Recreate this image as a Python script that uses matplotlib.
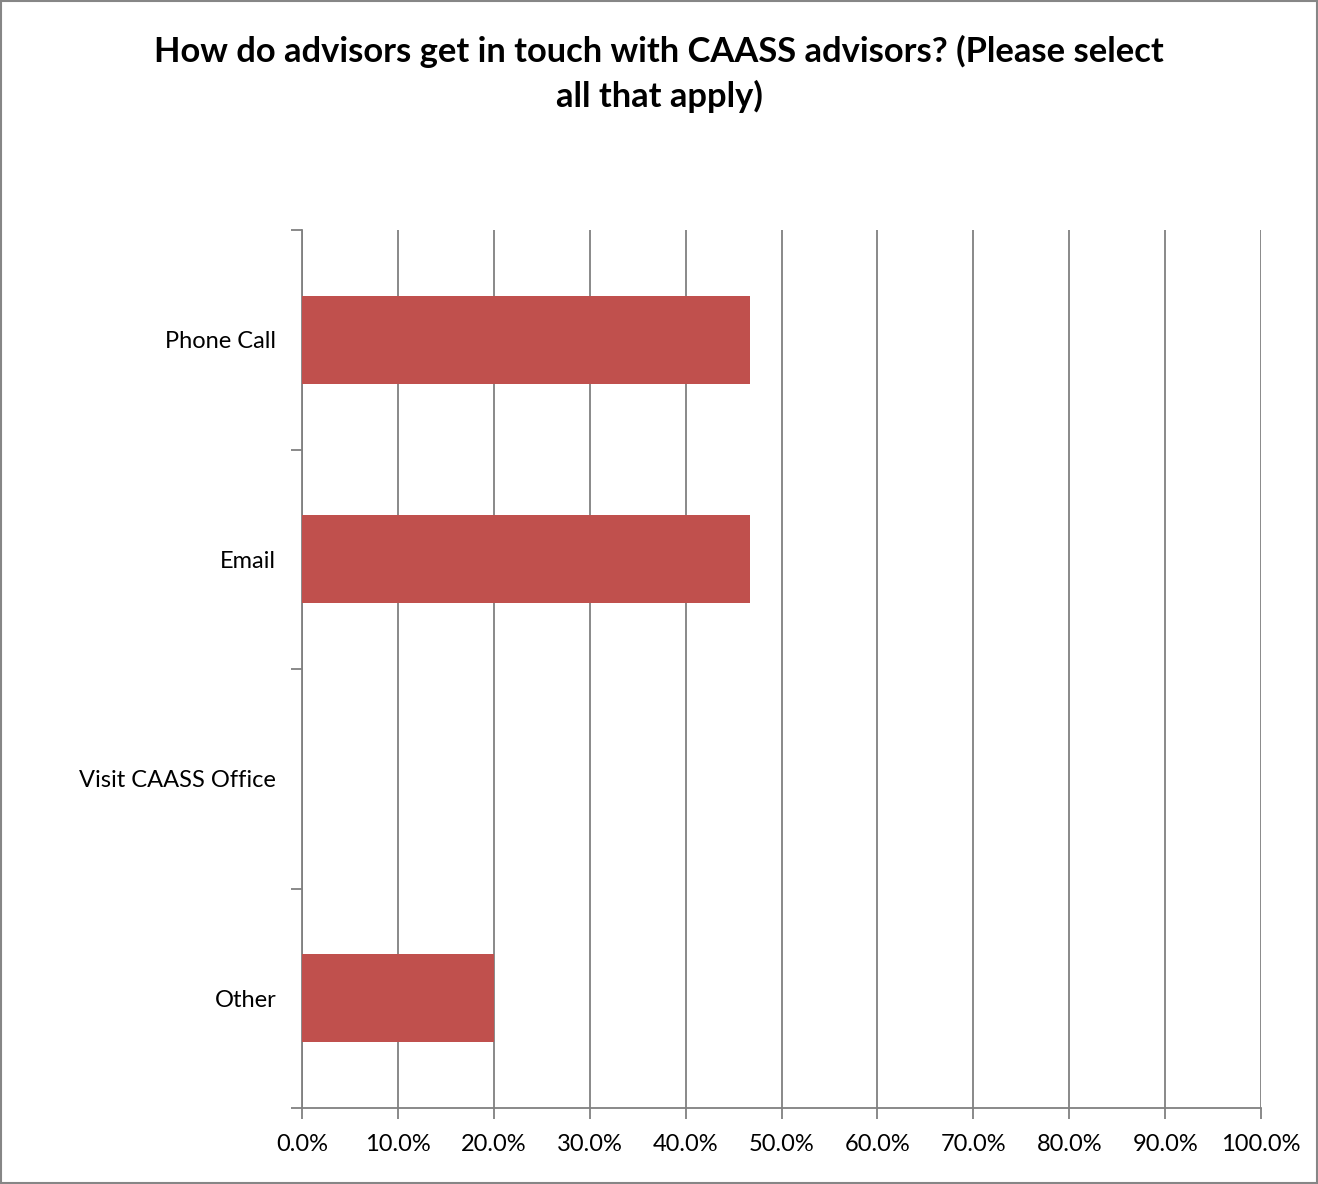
import matplotlib.pyplot as plt
from matplotlib.ticker import FuncFormatter, FixedLocator

categories = ["Phone Call", "Email", "Visit CAASS Office", "Other"]
percents = [46.7, 46.7, 0.0, 20.0]
title_lines = ["How do advisors get in touch with CAASS advisors? (Please select", "all that apply)"]

plt.rcParams['font.family'] = ['Lato', 'DejaVu Sans']

fig = plt.figure(figsize=(13.18, 11.84), dpi=100)
ax = fig.add_axes([0.2291, 0.0642, 0.7277, 0.7415])

pos = list(range(len(categories)))
ax.barh(pos, percents, height=0.4, color='#C0504D', zorder=3)
ax.set_ylim(len(categories) - 0.5, -0.5)
ax.set_xlim(0, 100)

ax.set_yticks(pos)
ax.set_yticklabels(categories, fontsize=17)
ax.yaxis.set_minor_locator(FixedLocator([i - 0.5 for i in range(len(categories) + 1)]))
ax.tick_params(axis='y', which='major', length=0, pad=18.5)
ax.tick_params(axis='y', which='minor', length=8, width=1.3, color='#808080')

ax.set_xticks(range(0, 101, 10))
ax.xaxis.set_major_formatter(FuncFormatter(lambda v, p: f"{v:.1f}%"))
ax.tick_params(axis='x', length=8, width=1.3, color='#808080', labelsize=17, pad=11)

ax.grid(axis='x', color='#808080', linewidth=1.3, zorder=0)
for side in ['top', 'right']:
    ax.spines[side].set_visible(False)
for side in ['left', 'bottom']:
    ax.spines[side].set_color('#808080')
    ax.spines[side].set_linewidth(1.3)

# title drawn line by line so baselines match
for line, y in zip(title_lines, [0.9476, 0.9096]):
    fig.text(0.5, y, line, ha='center', va='baseline', fontsize=24.8, fontweight='bold')

fig.patches.append(plt.Rectangle((0.0008, 0.0008), 0.9984, 0.9984, transform=fig.transFigure,
                                 fill=False, edgecolor='#868686', linewidth=1.5))

fig.savefig('out.png', dpi=100)
